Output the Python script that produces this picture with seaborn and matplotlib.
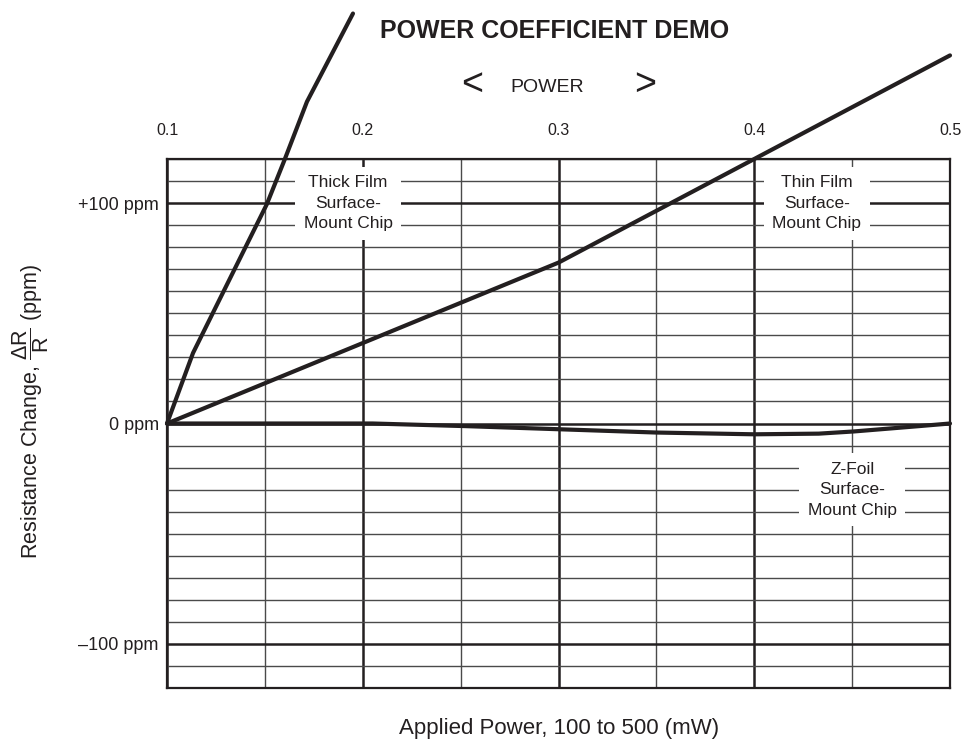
import numpy as np
import pandas as pd
import matplotlib
matplotlib.use("Agg")
import matplotlib.pyplot as plt
import seaborn as sns

# ---------------- data ----------------
thick_x = [0.100, 0.1133, 0.151, 0.160, 0.1715, 0.195]
thick_y = [0.0, 32.0, 99.5, 119.5, 146.0, 186.0]

thin_x = [0.100, 0.300, 0.500]
thin_y = [0.0, 73.0, 167.0]

zfoil_x = [0.100, 0.205, 0.253, 0.300, 0.350, 0.400, 0.433, 0.451, 0.484, 0.500]
zfoil_y = [0.0, 0.0, -1.2, -2.6, -4.1, -4.9, -4.6, -3.6, -1.2, 0.0]

series_names = ["Thick Film", "Thin Film", "Z-Foil"]

x_major = [0.1, 0.2, 0.3, 0.4, 0.5]
x_major_labels = ["0.1", "0.2", "0.3", "0.4", "0.5"]
x_minor = [0.15, 0.25, 0.35, 0.45]
y_major = [-100, 0, 100]
y_major_labels = ["\u2013100 ppm", "0 ppm", "+100 ppm"]
y_minor = list(range(-120, 121, 10))

label_texts = ["Thick Film\nSurface-\nMount Chip",
               "Thin Film\nSurface-\nMount Chip",
               "Z-Foil\nSurface-\nMount Chip"]
label_x = [0.1925, 0.432, 0.450]
label_y = [100, 100, -30]

df = pd.concat([
    pd.DataFrame({"power": thick_x, "ppm": thick_y, "series": series_names[0]}),
    pd.DataFrame({"power": thin_x, "ppm": thin_y, "series": series_names[1]}),
    pd.DataFrame({"power": zfoil_x, "ppm": zfoil_y, "series": series_names[2]}),
], ignore_index=True)

# ---------------- style ----------------
sns.set_theme(style="white")
plt.rcParams["font.family"] = ["Liberation Sans", "DejaVu Sans"]
plt.rcParams["mathtext.fontset"] = "custom"
plt.rcParams["mathtext.rm"] = "Liberation Sans"
plt.rcParams["mathtext.it"] = "Liberation Sans:italic"
plt.rcParams["mathtext.bf"] = "Liberation Sans:bold"

INK = "#231f20"
GRID_THIN = "#4a4a4a"
W, H = 963, 740

fig = plt.figure(figsize=(W / 100, H / 100), dpi=100)
L, R, T, B = 167, 950, 159, 688
ax = fig.add_axes([L / W, 1 - B / H, (R - L) / W, (B - T) / H])

sns.lineplot(data=df, x="power", y="ppm", hue="series", units="series",
             palette=[INK, INK, INK], estimator=None, sort=False,
             linewidth=3.0, legend=False, ax=ax)
for ln in ax.lines:
    ln.set_clip_on(False)
    ln.set_zorder(5)
    ln.set_solid_capstyle("round")
    ln.set_solid_joinstyle("round")

ax.set_xlim(0.1, 0.5)
ax.set_ylim(-120, 120)

ax.set_xticks(x_major)
ax.set_xticklabels(x_major_labels)
ax.set_xticks(x_minor, minor=True)
ax.set_yticks(y_major)
ax.set_yticklabels(y_major_labels)
ax.set_yticks([v for v in y_minor if v not in y_major], minor=True)

ax.set_axisbelow(True)
ax.grid(which="major", color=INK, linewidth=1.8)
ax.grid(which="minor", color=GRID_THIN, linewidth=1.0)

ax.xaxis.tick_top()
ax.tick_params(axis="x", which="both", length=0, pad=15, labelsize=11.5, colors=INK)
ax.tick_params(axis="y", which="both", length=0, pad=6, labelsize=13, colors=INK)

for sp in ax.spines.values():
    sp.set_visible(True)
    sp.set_color(INK)
    sp.set_linewidth(1.6)

for txt, lx, ly in zip(label_texts, label_x, label_y):
    ax.text(lx, ly, txt, ha="center", va="center", fontsize=12.5, color=INK,
            linespacing=1.45, zorder=3,
            bbox=dict(boxstyle="square,pad=0.5", fc="white", ec="none"))

# axis labels
ax.set_xlabel("")
ax.set_ylabel("")
fig.text(559 / W, 1 - 734 / H, "Applied Power, 100 to 500 (mW)",
         ha="center", va="baseline", fontsize=16, color=INK)
fig.text(31 / W, 1 - 412 / H,
         r"Resistance Change, $\dfrac{\mathrm{\Delta R}}{\mathrm{R}}$ (ppm)",
         ha="center", va="center", rotation=90, fontsize=15.5, color=INK)

# title and power indicator
fig.text(555 / W, 1 - 38 / H, "POWER COEFFICIENT DEMO", ha="center",
         va="baseline", fontsize=18, fontweight="bold", color=INK)
fig.text(547 / W, 1 - 92 / H, "POWER", ha="center", va="baseline",
         fontsize=14, color=INK)
fig.text(472 / W, 1 - 95 / H, "<", ha="center", va="baseline",
         fontsize=27, color=INK)
fig.text(645 / W, 1 - 95 / H, ">", ha="center", va="baseline",
         fontsize=27, color=INK)

fig.savefig("out.png", dpi=100, facecolor="white")
